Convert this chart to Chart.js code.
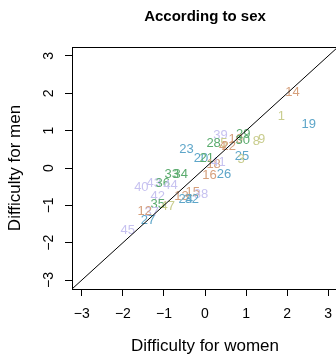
<!DOCTYPE html>
<html>
<head>
<meta charset="utf-8">
<script src="https://cdn.jsdelivr.net/npm/chart.js@4.4.1/dist/chart.umd.min.js"></script>
<style>
  html, body { margin: 0; padding: 0; background: #fff; overflow: hidden; }
  #wrap { width: 340px; height: 355px; }
</style>
</head>
<body>
<div id="wrap"><canvas id="c" width="340" height="355"></canvas></div>
<script>
// item difficulty, women (x) vs men (y); each item drawn as its number
const itemLabels = ['14', '1', '19', '39', '29', '8', '9', '28', '5', '4', '22', '10', '30',
  '25', '3', '23', '20', '21', '18', '41', '16', '26', '33', '34', '40', '43', '36', '44',
  '42', '13', '15', '38', '24', '32', '35', '47', '37', '12', '27', '45'];
const women = [2.13, 1.86, 2.53, 0.38, 0.93, 1.25, 1.38, 0.21, 0.46, 0.43, 0.58, 0.75, 0.92,
  0.90, 0.88, -0.45, -0.10, 0.04, 0.21, 0.33, 0.11, 0.46, -0.81, -0.59, -1.55, -1.25, -1.03, -0.84,
  -1.15, -0.57, -0.30, -0.10, -0.47, -0.32, -1.15, -0.91, -1.30, -1.47, -1.39, -1.88];
const men = [2.02, 1.38, 1.16, 0.86, 0.90, 0.72, 0.77, 0.66, 0.66, 0.58, 0.58, 0.77, 0.74,
  0.32, 0.24, 0.50, 0.26, 0.26, 0.10, 0.16, -0.19, -0.17, -0.17, -0.17, -0.52, -0.41, -0.41, -0.46,
  -0.75, -0.75, -0.65, -0.70, -0.83, -0.83, -0.97, -1.02, -1.18, -1.17, -1.41, -1.68];
// colour group of each item: 0 tan, 1 olive, 2 blue, 3 green, 4 lavender
const groups = [0, 1, 2, 4, 3, 1, 1, 3, 1, 0, 0, 0, 3,
  2, 1, 2, 2, 3, 0, 4, 0, 2, 3, 3, 4, 4, 3, 4,
  4, 0, 0, 4, 2, 2, 3, 1, 4, 0, 2, 4];
const palette = ['#d6a07c', '#c9cd8e', '#5ea6c9', '#5aab6d', '#c7c2f0'];

const xTicks = [-3, -2, -1, 0, 1, 2, 3];
const yTicks = [-3, -2, -1, 0, 1, 2, 3];
const axisMin = -3.24, axisMax = 3.24;

const FONT = '"Liberation Sans", Arial, sans-serif';
const minus = v => String(v).replace('-', '\u2212');

const points = women.map((w, i) => ({ x: w, y: men[i] }));

// item numbers are drawn as text at each point, under the y = x line
const labelPlugin = {
  id: 'itemLabels',
  beforeDatasetsDraw(chart) {
    const ctx = chart.ctx;
    const meta = chart.getDatasetMeta(0);
    ctx.save();
    ctx.font = '13px ' + FONT;
    ctx.textAlign = 'center';
    ctx.textBaseline = 'middle';
    meta.data.forEach((el, i) => {
      ctx.fillStyle = palette[groups[i]];
      ctx.fillText(itemLabels[i], el.x, el.y);
    });
    ctx.restore();
  },
  afterDraw(chart) {
    const ctx = chart.ctx;
    const a = chart.chartArea;
    const xs = chart.scales.x, ys = chart.scales.y;
    ctx.save();
    ctx.strokeStyle = '#000';
    ctx.lineWidth = 1;
    ctx.strokeRect(Math.round(a.left) + 0.5, Math.round(a.top) + 0.5,
      Math.round(a.right - a.left), Math.round(a.bottom - a.top));

    ctx.fillStyle = '#000';
    ctx.textAlign = 'center';
    ctx.textBaseline = 'middle';
    ctx.font = '14px ' + FONT;
    xTicks.forEach(v => ctx.fillText(minus(v), xs.getPixelForValue(v), a.bottom + 25));
    yTicks.forEach(v => {
      ctx.save();
      ctx.translate(a.left - 23, ys.getPixelForValue(v));
      ctx.rotate(-Math.PI / 2);
      ctx.fillText(minus(v), 0, 0);
      ctx.restore();
    });

    ctx.font = '17px ' + FONT;
    ctx.fillText('Difficulty for women', (a.left + a.right) / 2, a.bottom + 57);
    ctx.save();
    ctx.translate(15, (a.top + a.bottom) / 2);
    ctx.rotate(-Math.PI / 2);
    ctx.fillText('Difficulty for men', 0, 0);
    ctx.restore();

    ctx.font = 'bold 15px ' + FONT;
    ctx.fillText('According to sex', (a.left + a.right) / 2, 17);
    ctx.restore();
  }
};

const axisOpts = (ticks, fit) => ({
  type: 'linear',
  min: axisMin,
  max: axisMax,
  afterBuildTicks: s => { s.ticks = ticks.map(v => ({ value: v })); },
  afterFit: fit,
  ticks: { display: false },
  grid: {
    drawOnChartArea: false, drawTicks: true, tickLength: 7,
    tickColor: '#000', tickWidth: 1
  },
  border: { display: true, color: '#000', width: 1 },
});

new Chart(document.getElementById('c'), {
  type: 'scatter',
  data: {
    datasets: [
      { data: points, pointRadius: 0, pointHoverRadius: 0 },
      {
        data: [{ x: -4, y: -4 }, { x: 4, y: 4 }],
        showLine: true, borderColor: '#000', borderWidth: 1,
        pointRadius: 0, fill: false
      }
    ]
  },
  plugins: [labelPlugin],
  options: {
    responsive: false,
    animation: false,
    events: [],
    layout: { padding: { left: 0, right: 2, top: 47, bottom: 0 } },
    plugins: { legend: { display: false }, tooltip: { enabled: false } },
    scales: {
      x: axisOpts(xTicks, s => { s.height = 66; }),
      y: axisOpts(yTicks, s => { s.width = 72; })
    }
  }
});
</script>
</body>
</html>
